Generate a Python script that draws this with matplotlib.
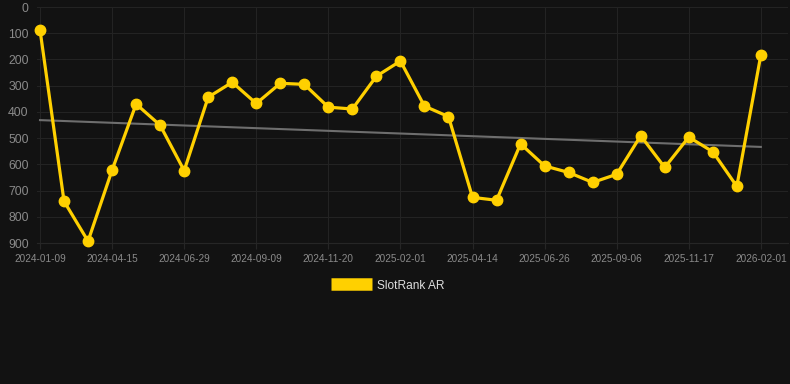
"""SlotRank AR rank history with linear trend."""

import matplotlib

matplotlib.use("Agg")
import matplotlib.pyplot as plt
import numpy as np

plt.rcParams["font.family"] = ["Liberation Sans", "DejaVu Sans"]

tick_labels = [
    "2024-01-09", "2024-04-15", "2024-06-29", "2024-09-09", "2024-11-20",
    "2025-02-01", "2025-04-14", "2025-06-26", "2025-09-06", "2025-11-17",
    "2026-02-01",
]
ranks = [
    87, 741, 893, 622, 370, 451, 624, 344, 287, 368, 291, 295, 382, 389,
    264, 206, 378, 418, 726, 737, 522, 606, 631, 669, 638, 491, 612, 496,
    552, 684, 183,
]
series_name = "SlotRank AR"

BG = "#121212"
GOLD = "#FFD000"


def main() -> None:
    x = np.arange(len(ranks))
    y = np.array(ranks, dtype=float)
    slope, intercept = np.polyfit(x, y, 1)

    fig = plt.figure(figsize=(7.9, 3.84), dpi=100, facecolor=BG)
    ax = fig.add_axes([37 / 790, 1 - 243 / 384, 751 / 790, 236 / 384])
    ax.set_facecolor(BG)

    ax.plot(x, slope * x + intercept, color="#6e6e6e", lw=1.5, zorder=2)
    ax.plot(x, y, color=GOLD, lw=2.3, marker="o", ms=7.5,
            label=series_name, zorder=3, clip_on=False)

    ax.set_xlim(-0.125, 31.13)
    ax.set_ylim(900, 0)
    ax.set_yticks(range(0, 901, 100))
    ax.set_xticks(x[::3], tick_labels)

    ax.grid(True, color="#232323", lw=0.8)
    for side in ("top", "right", "left"):
        ax.spines[side].set_visible(False)
    ax.spines["bottom"].set_color("#262626")
    ax.tick_params(axis="y", length=0, pad=6, labelsize=8.8, labelcolor="#8a8a8a")
    ax.tick_params(axis="x", length=4, color="#262626", pad=4,
                   labelsize=7.2, labelcolor="#8a8a8a")

    leg = fig.legend(loc="upper center", bbox_to_anchor=(0.491, 1 - 268 / 384),
                     frameon=False, fontsize=8.6, handlelength=3.4,
                     handleheight=1.2, handletextpad=0.45)
    for h in leg.legend_handles:
        h.set_marker("")
        h.set_linewidth(9)
        h.set_solid_capstyle("butt")
    for t in leg.get_texts():
        t.set_color("#dddddd")

    fig.savefig("out.png", dpi=100, facecolor=BG)
    plt.close(fig)


if __name__ == "__main__":
    main()
